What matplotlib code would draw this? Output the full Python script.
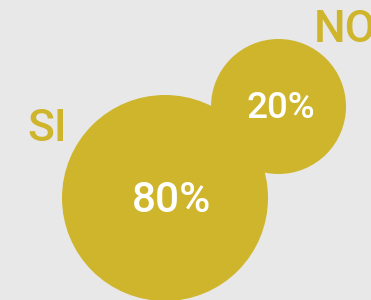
import matplotlib
matplotlib.use("Agg")
import matplotlib.pyplot as plt
from matplotlib.patches import Circle

labels = ["SI", "NO"]
values = [80, 20]

# layout (pixel coordinates, y downward)
centers = [(165, 198), (278.5, 106.5)]
radii = [103, 67.5]
value_pos = [(172, 200), (281, 109)]
value_sizes = [30.5, 26.5]
label_pos = [(47, 129), (345, 30)]

gold = "#cfb52c"
bg = "#e8e8e8"

fig = plt.figure(figsize=(3.71, 3.00), dpi=100, facecolor=bg)
ax = fig.add_axes([0, 0, 1, 1])
ax.set_facecolor(bg)
ax.set_xlim(0, 371)
ax.set_ylim(300, 0)
ax.set_aspect("equal")
ax.axis("off")

for lab, val, c, r, vp, vs, lp in zip(labels, values, centers, radii, value_pos, value_sizes, label_pos):
    ax.add_patch(Circle(c, r, facecolor=gold, edgecolor="none"))
    ax.text(vp[0], vp[1], f"{val}%", color="white", fontsize=vs, family="Roboto",
            fontweight="medium", ha="center", va="center")
    ax.text(lp[0], lp[1], lab, color=gold, fontsize=32, family="Roboto",
            fontweight="medium", ha="center", va="center")

fig.savefig("out.png", dpi=100, facecolor=bg)
